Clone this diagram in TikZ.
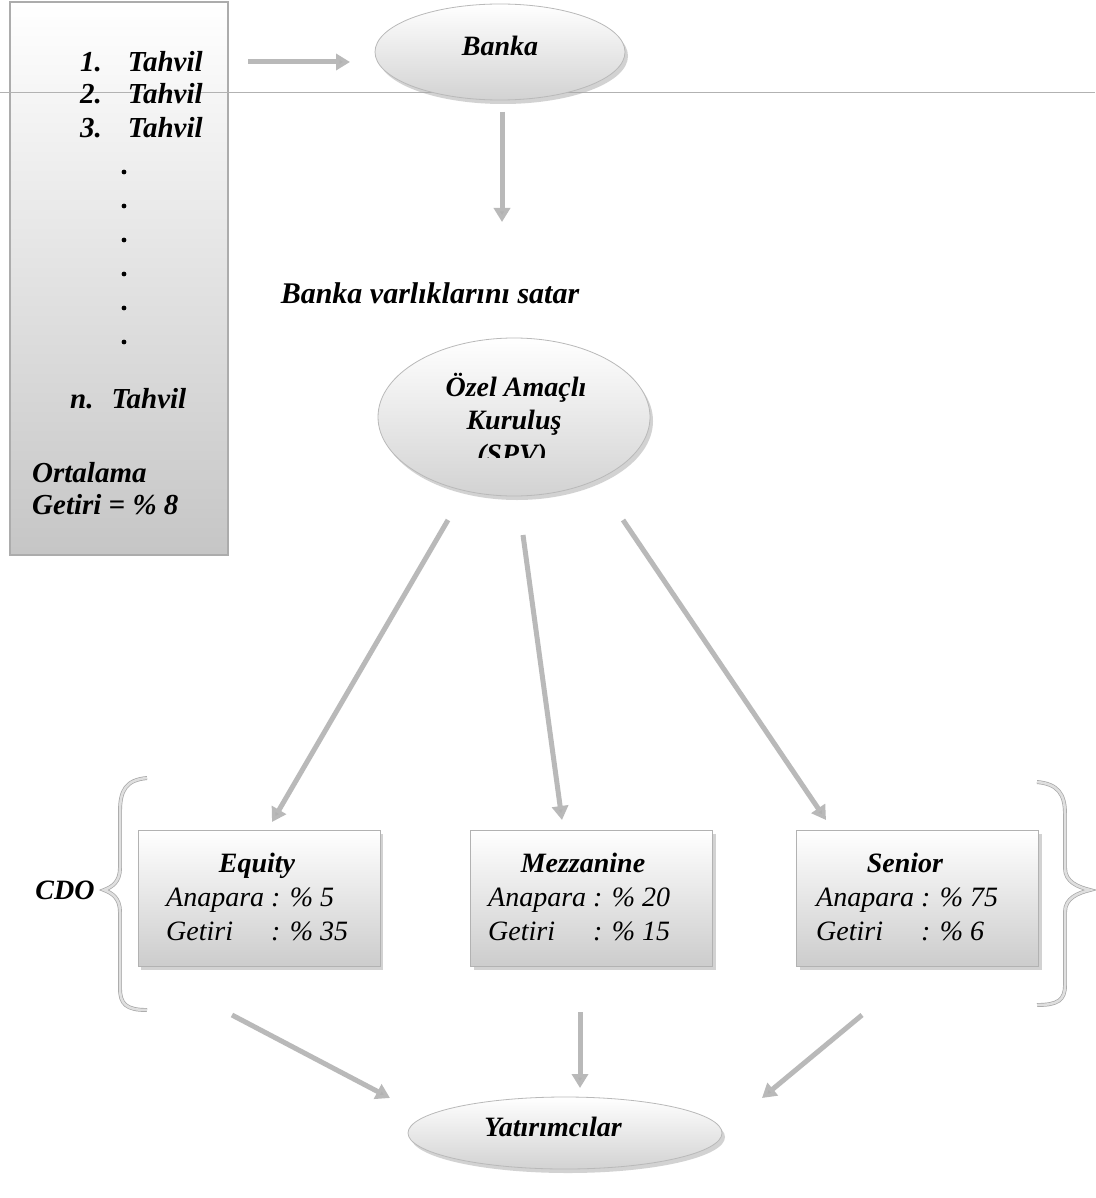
\documentclass[tikz,border=0pt]{standalone}
\usepackage{fontspec}
\setmainfont{Liberation Serif}
\usetikzlibrary{shapes.geometric,arrows.meta,shadows}
\begin{document}
\begin{tikzpicture}[x=1pt,y=-1pt,
  bi/.style={font=\fontsize{28}{32}\selectfont\bfseries\itshape, inner sep=0pt},
  bil/.style={font=\fontsize{29}{33}\selectfont\bfseries\itshape, inner sep=0pt},
  ri/.style={font=\fontsize{28}{34}\selectfont\itshape, inner sep=0pt},
  fat/.style={draw=gray!55, line width=5pt, -{Triangle[length=14pt,width=16pt,fill=gray!60]}},
  oval/.style={ellipse, draw=gray!55, line width=0.8pt, top color=white, bottom color=gray!35,
    drop shadow={shadow xshift=3pt, shadow yshift=-4pt, fill=gray!70}},
  tranche/.style={rectangle, draw=gray!60, line width=0.8pt, top color=white, bottom color=gray!40,
    minimum width=242pt, minimum height=136pt,
    drop shadow={shadow xshift=3pt, shadow yshift=-3pt, fill=gray!70}},
  brace/.style={draw=gray!70, line width=0.7pt, double=gray!25, double distance=2.5pt}
]
\path[use as bounding box, fill=white] (0,0) rectangle (1095,1198);

% left list box
\node[rectangle, draw=gray!65, line width=1.5pt, top color=white, middle color=gray!12, bottom color=gray!45,
  minimum width=218pt, minimum height=553pt] (lbox) at (119,278.5) {};
\draw[gray!60, line width=1pt] (0,93) -- (1095,93);
\node[bil, anchor=base west] (t1) at (80,72) {1.\hspace{26pt}Tahvil};
\node[bil, anchor=base west] (t2) at (80,104) {2.\hspace{26pt}Tahvil};
\node[bil, anchor=base west] (t3) at (80,138) {3.\hspace{26pt}Tahvil};
\foreach \i/\yy in {1/172,2/206,3/240,4/274,5/308,6/342}
  \fill (124,\yy) circle (2.4pt) coordinate (d\i);
\node[bil, anchor=base west] (tn) at (70,408) {n.\hspace{18pt}Tahvil};
\node[bil, anchor=base west] (ort) at (32,482) {Ortalama};
\node[bil, anchor=base west] (get) at (32,514) {Getiri = \% 8};

% Banka
\node[oval, minimum width=250pt, minimum height=96pt] (banka) at (500,52) {};
\node[bi] (bankat) at (500,46) {Banka};
\coordinate (a1s) at (248,62);
\coordinate (a1e) at (350,62);
\draw[fat] (a1s) -- (a1e);
\coordinate (a2s) at (502,112);
\coordinate (a2e) at (502,222);
\draw[fat] (a2s) -- (a2e);

\node[bi, font=\fontsize{30}{34}\selectfont\bfseries\itshape] (satar) at (430,293) {Banka varlıklarını satar};

% SPV
\node[oval, minimum width=272pt, minimum height=158pt] (spv) at (514,417) {};
\node[bi, anchor=base] (spv1) at (516,396) {Özel Amaçlı};
\node[bi, anchor=base] (spv2) at (514,429) {Kuruluş};
\begin{scope}
  \clip (400,430) rectangle (630,457);
  \node[bi, anchor=base] (spv3) at (512,463) {(SPV)};
\end{scope}

% tranches
\node[tranche] (eq) at (259,898.5) {};
\node[tranche] (mz) at (591.5,898.5) {};
\node[tranche] (sn) at (917.5,898.5) {};
\node[bi, anchor=base] (eqt) at (257,872) {Equity};
\node[bi, anchor=base] (mzt) at (583,872) {Mezzanine};
\node[bi, anchor=base] (snt) at (905,872) {Senior};
\node[ri, anchor=north west] (eqv) at (166,882) {\begin{tabular}{@{}l@{ }l@{}}Anapara & : \% 5\\ Getiri & : \% 35\end{tabular}};
\node[ri, anchor=north west] (mzv) at (488,882) {\begin{tabular}{@{}l@{ }l@{}}Anapara & : \% 20\\ Getiri & : \% 15\end{tabular}};
\node[ri, anchor=north west] (snv) at (816,882) {\begin{tabular}{@{}l@{ }l@{}}Anapara & : \% 75\\ Getiri & : \% 6\end{tabular}};

% arrows from SPV
\coordinate (b1s) at (448,520); \coordinate (b1e) at (272,822);
\coordinate (b2s) at (523,535); \coordinate (b2e) at (562,820);
\coordinate (b3s) at (623,520); \coordinate (b3e) at (826,820);
\draw[fat] (b1s) -- (b1e);
\draw[fat] (b2s) -- (b2e);
\draw[fat] (b3s) -- (b3e);

% CDO braces
\node[bi] (cdo) at (65,890) {CDO};
\draw[brace] (147,778) .. controls (126,780) and (120,790) .. (120,812) -- (120,868)
  .. controls (120,882) and (112,887) .. (104,890) .. controls (112,893) and (120,898) .. (120,912)
  -- (120,988) .. controls (120,1004) and (126,1010) .. (147,1010);
\draw[brace] (1037,782) .. controls (1058,784) and (1065,794) .. (1065,814) -- (1065,868)
  .. controls (1065,882) and (1078,887) .. (1090,890) .. controls (1078,893) and (1065,898) .. (1065,912)
  -- (1065,985) .. controls (1065,1000) and (1058,1005) .. (1037,1005);

% investors
\node[oval, minimum width=314pt, minimum height=72pt] (yat) at (565,1133) {};
\node[bi] (yatt) at (553,1127) {Yatırımcılar};
\coordinate (c1s) at (232,1015); \coordinate (c1e) at (390,1098);
\coordinate (c2s) at (580,1012); \coordinate (c2e) at (580,1088);
\coordinate (c3s) at (862,1015); \coordinate (c3e) at (762,1098);
\draw[fat] (c1s) -- (c1e);
\draw[fat] (c2s) -- (c2e);
\draw[fat] (c3s) -- (c3e);
\end{tikzpicture}
\end{document}
